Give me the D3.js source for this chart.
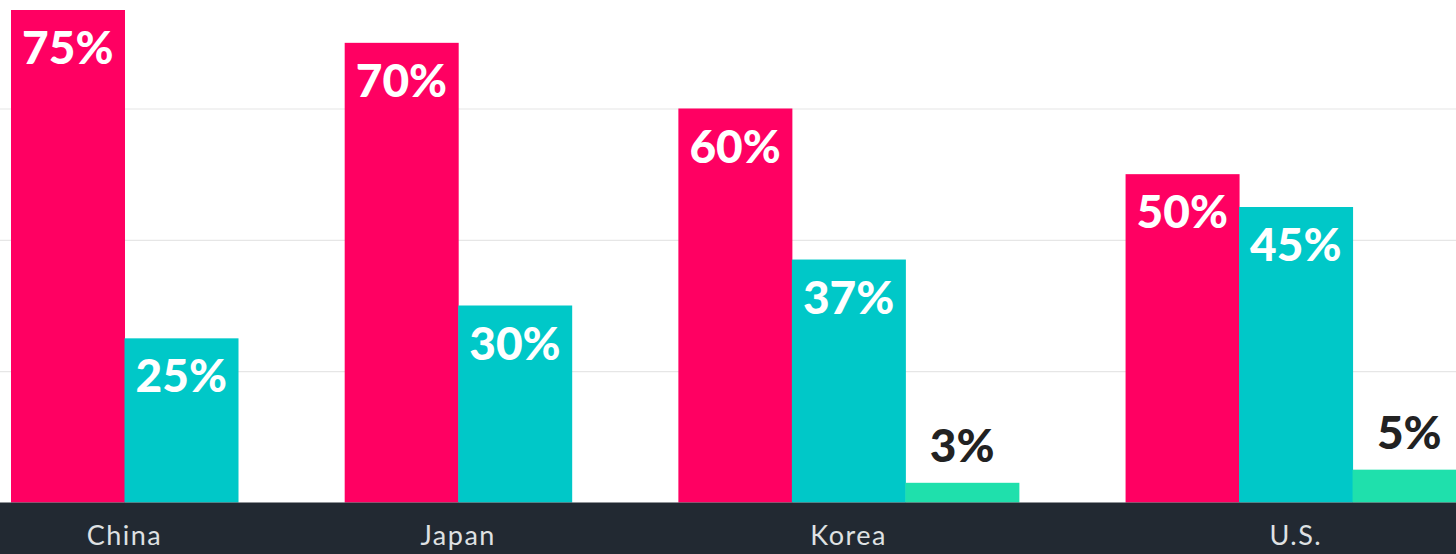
<!DOCTYPE html>
<html lang="en">
<head>
    <meta charset="utf-8">
    <title>Bar chart by country</title>
    <style>
        body { margin: 0; background: #fff; }
        svg { display: block; }
        .grid line { stroke: #e6e6e6; stroke-width: 1.2px; }
        .valueLabel { font-family: 'Lato', sans-serif; font-weight: 900; font-size: 46px; text-anchor: middle; }
        .catLabel { font-family: 'Lato', sans-serif; font-size: 27px; fill: #dfe1e3; text-anchor: middle; letter-spacing: 1.5px; }
    </style>
</head>
<body>
<svg id="chart"></svg>
<script src="https://d3js.org/d3.v7.min.js"></script>
<script>
// data
const countries = ["China", "Japan", "Korea", "U.S."];
const pinkValues = [75, 70, 60, 50];
const tealValues = [25, 30, 37, 45];
const greenValues = [null, null, 3, 5];
const gridTicks = [20, 40, 60];

const seriesColors = ["#ff0062", "#00c8c8", "#1fe0ac"];
const labelColors = ["#ffffff", "#ffffff", "#222222"];

const W = 1456, H = 554;
const svg = d3.select("#chart").attr("width", W).attr("height", H);

// flatten into bars, skipping empty series so each group only holds its bars
const gap = 0.94;
let bars = [], groups = [], unit = 0;
countries.forEach((c, i) => {
    const vals = [pinkValues[i], tealValues[i], greenValues[i]];
    const start = unit;
    vals.forEach((v, s) => {
        if (v == null) return;
        bars.push({country: c, series: s, value: v, u: unit});
        unit += 1;
    });
    groups.push({country: c, start: start, end: unit});
    unit += gap;
});
const totalUnits = unit - gap;

let xScale = d3.scaleLinear()
    .domain([0, totalUnits])
    .range([11, 11 + 113.5 * totalUnits]);

let yScale = d3.scaleLinear()
    .domain([0, 75])
    .range([502.5, 10]);

// gridlines
svg.append("g")
    .attr("class", "grid")
    .call(d3.axisLeft(yScale).tickValues(gridTicks).tickSize(-W).tickFormat(""))
    .call(g => g.select(".domain").remove());

// bars
svg.selectAll("rect.bar")
    .data(bars)
    .join("rect")
    .attr("class", "bar")
    .attr("x", d => xScale(d.u))
    .attr("width", d => xScale(d.u + 1) - xScale(d.u) + 0.5)
    .attr("y", d => yScale(d.value))
    .attr("height", d => yScale(0) - yScale(d.value))
    .attr("fill", d => seriesColors[d.series]);

// value labels: inside the top for the big bars, above for the small ones
svg.selectAll("text.valueLabel")
    .data(bars)
    .join("text")
    .attr("class", "valueLabel")
    .attr("x", d => xScale(d.u + 0.5))
    .attr("y", d => d.series < 2 ? yScale(d.value) + 54 : yScale(d.value) - 21)
    .attr("fill", d => labelColors[d.series])
    .text(d => d.value + "%");

// dark band along the bottom
svg.append("rect")
    .attr("x", 0)
    .attr("y", yScale(0))
    .attr("width", W)
    .attr("height", H - yScale(0))
    .attr("fill", "#222932");

svg.selectAll("text.catLabel")
    .data(groups)
    .join("text")
    .attr("class", "catLabel")
    .attr("x", d => xScale((d.start + d.end) / 2))
    .attr("y", 545)
    .text(d => d.country);
</script>
</body>
</html>
